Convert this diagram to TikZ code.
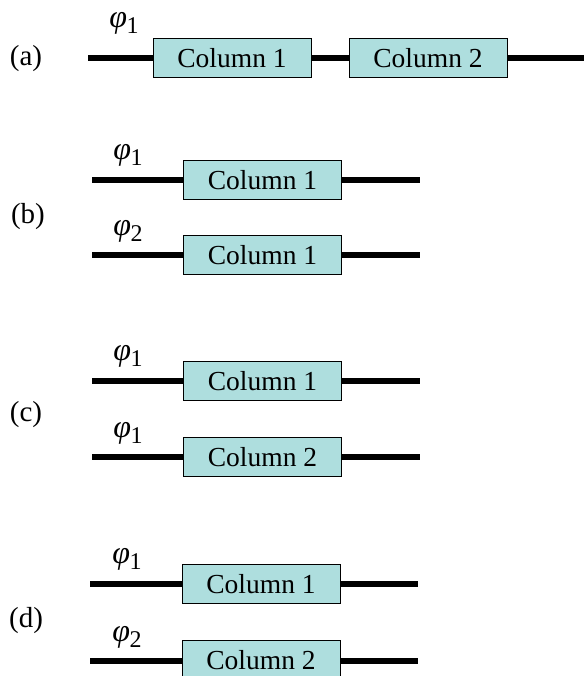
\documentclass[tikz,border=0pt]{standalone}
\usepackage{fontspec}
\setmainfont{Liberation Serif}
\definecolor{boxfill}{HTML}{AEDEDE}
\newcommand{\phis}[1]{{\itshape φ}\kern-0.5pt\raisebox{-6pt}{\fontsize{24}{26}\selectfont #1}}
\begin{document}
\begin{tikzpicture}[x=1pt,y=-1pt,
 col/.style={draw=black, line width=1pt, fill=boxfill, minimum width=158pt, minimum height=39pt, inner sep=0pt, font=\fontsize{27.5}{30}\selectfont},
 wire/.style={line width=6pt},
 lbl/.style={font=\fontsize{29}{30}\selectfont},
 phil/.style={font=\fontsize{32}{34}\selectfont}]
\useasboundingbox (0,0) rectangle (584,676);
% (a)
\node[lbl] (la) at (26,59) {(a)};
\node[phil] (pa) at (124,23) {\phis{1}};
\coordinate (a0) at (88,58);
\coordinate (a3) at (584,58);
\node[col] (a1) at (232,58) {Column 1};
\node[col] (a2) at (428,58) {Column 2};
% (b)
\node[lbl] (lb) at (28,217) {(b)};
\node[phil] (pb1) at (128,155) {\phis{1}};
\node[phil] (pb2) at (128,231) {\phis{2}};
\coordinate (b10) at (92,180);
\coordinate (b13) at (420,180);
\coordinate (b20) at (92,255);
\coordinate (b23) at (420,255);
\node[col] (b1) at (262.5,180) {Column 1};
\node[col] (b2) at (262.5,255) {Column 1};
% (c)
\node[lbl] (lc) at (26,415) {(c)};
\node[phil] (pc1) at (128,356) {\phis{1}};
\node[phil] (pc2) at (128,433) {\phis{1}};
\coordinate (c10) at (92,381);
\coordinate (c13) at (420,381);
\coordinate (c20) at (92,457);
\coordinate (c23) at (420,457);
\node[col] (c1) at (262.5,381) {Column 1};
\node[col] (c2) at (262.5,457) {Column 2};
% (d)
\node[lbl] (ld) at (26,621) {(d)};
\node[phil] (pd1) at (127,559) {\phis{1}};
\node[phil] (pd2) at (127,637) {\phis{2}};
\coordinate (d10) at (90,584);
\coordinate (d13) at (418,584);
\coordinate (d20) at (90,661);
\coordinate (d23) at (418,661);
\node[col] (d1) at (261,584) {Column 1};
\node[col] (d2) at (261,660) {Column 2};
% wires
\draw[wire] (a0) -- (a1.west) (a1.east) -- (a2.west) (a2.east) -- (a3);
\draw[wire] (b10) -- (b1.west) (b1.east) -- (b13);
\draw[wire] (b20) -- (b2.west) (b2.east) -- (b23);
\draw[wire] (c10) -- (c1.west) (c1.east) -- (c13);
\draw[wire] (c20) -- (c2.west) (c2.east) -- (c23);
\draw[wire] (d10) -- (d1.west) (d1.east) -- (d13);
\draw[wire] (d20) -- (d2.west |- d20) (d2.east |- d23) -- (d23);
\end{tikzpicture}
\end{document}
